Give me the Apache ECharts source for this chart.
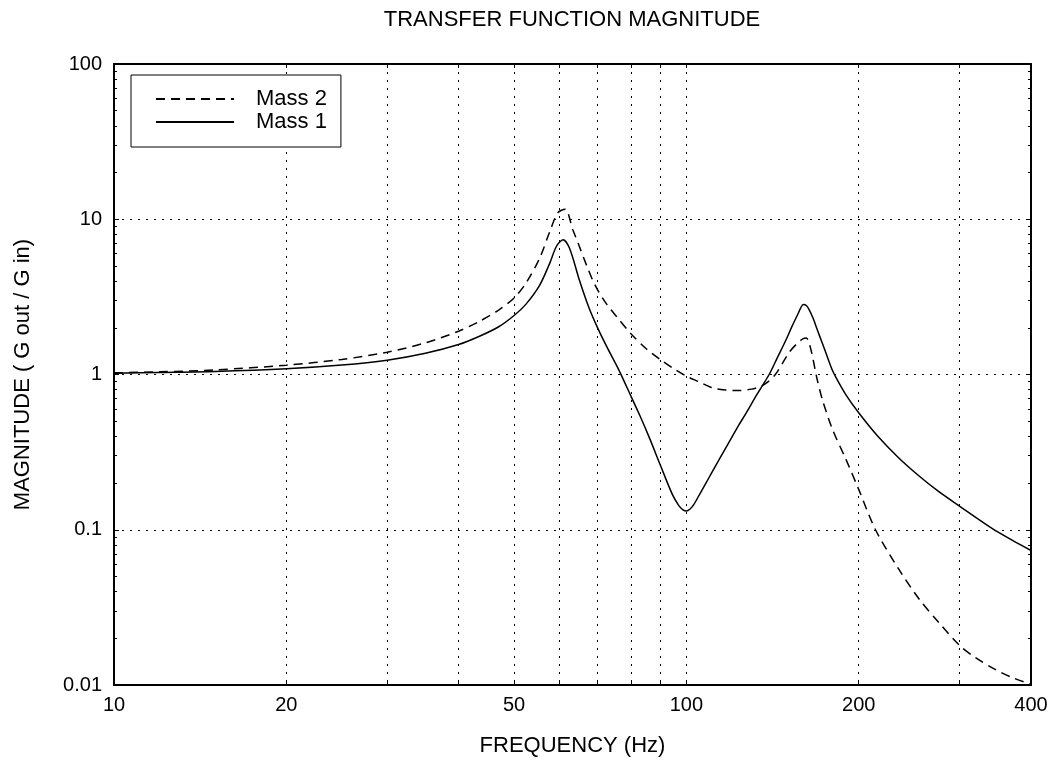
<!DOCTYPE html>
<html><head><meta charset="utf-8">
<script src="https://cdn.jsdelivr.net/npm/echarts@6/dist/echarts.min.js"></script>
<style>html,body{margin:0;padding:0;background:#fff}#c{width:1057px;height:767px}</style>
</head><body><div id="c"></div>
<script>
// ---- data ----
const mass1Freq = [10, 12, 15, 20, 25, 30, 35, 40, 43.5, 47, 50, 52.5, 55.4, 57.7, 59.3, 60.9, 62.5, 65.1, 67.6, 70, 73, 76.3, 80, 83, 86.4, 90, 94.5, 97, 98.5, 100, 101.5, 103, 106, 108.3, 111, 118, 123.6, 127, 133, 139.5, 144, 149.4, 153, 157, 158.5, 160, 162, 164, 166.5, 169, 171, 175, 180, 183, 190, 200, 216, 235, 255, 275, 300, 342, 370, 400];
const mass1Mag  = [1.02, 1.03, 1.045, 1.088, 1.15, 1.236, 1.37, 1.559, 1.763, 2.03, 2.4, 2.85, 3.75, 5.2, 6.7, 7.39, 6.5, 4.0, 2.68, 1.99, 1.45, 1.06, 0.726, 0.54, 0.382, 0.262, 0.169, 0.143, 0.135, 0.132, 0.136, 0.145, 0.175, 0.201, 0.237, 0.352, 0.475, 0.56, 0.75, 1.0, 1.27, 1.68, 2.05, 2.5, 2.7, 2.82, 2.78, 2.6, 2.3, 1.98, 1.76, 1.4, 1.06, 0.94, 0.74, 0.567, 0.40, 0.29, 0.222, 0.178, 0.142, 0.102, 0.086, 0.0735];
const mass2Freq = [10, 12, 15, 20, 25, 30, 35, 40, 43.5, 47, 50, 52.5, 55.4, 57.7, 59.6, 61.4, 63.3, 65.1, 67, 68.5, 70, 72.5, 75.6, 80, 85, 90, 95, 100, 105, 111, 117, 123.6, 130, 135, 139, 143, 147, 151, 156, 160, 162, 165, 169, 173, 180, 190, 200, 214, 235, 255, 276, 300, 320, 345, 370, 400];
const mass2Mag  = [1.025, 1.04, 1.07, 1.148, 1.25, 1.391, 1.6, 1.90, 2.20, 2.6, 3.11, 3.9, 5.6, 8.3, 11.0, 11.6, 8.6, 6.6, 5.0, 4.1, 3.5, 2.85, 2.35, 1.83, 1.47, 1.249, 1.09, 0.975, 0.9, 0.821, 0.795, 0.789, 0.805, 0.841, 0.9, 1.0, 1.17, 1.379, 1.58, 1.7, 1.72, 1.45, 0.95, 0.68, 0.443, 0.284, 0.182, 0.1, 0.0557, 0.0358, 0.0253, 0.0180, 0.0150, 0.0127, 0.0112, 0.0101];
const seriesNames = ['Mass 2', 'Mass 1'];
const xLabelValues = [10, 20, 50, 100, 200, 400];
const xGridValues = [10, 20, 30, 40, 50, 60, 70, 80, 90, 100, 200, 300, 400];
const yMinorTicks = [0.02, 0.03, 0.04, 0.05, 0.06, 0.07, 0.08, 0.09, 0.2, 0.3, 0.4, 0.5, 0.6, 0.7, 0.8, 0.9, 2, 3, 4, 5, 6, 7, 8, 9, 20, 30, 40, 50, 60, 70, 80, 90];
const yMajorTicks = [0.01, 0.1, 1, 10, 100];

const FONT = 'Liberation Sans, Arial, Helvetica, sans-serif';
const zip = (xs, ys) => xs.map((x, i) => [x, ys[i]]);

const chart = echarts.init(document.getElementById('c'), null, {renderer: 'canvas'});
const axisLine = {show: true, onZero: false, lineStyle: {color: '#000', width: 2}};
const dotted = {show: true, lineStyle: {color: '#000', width: 1, type: [2, 6]}};

chart.setOption({
  animation: false,
  backgroundColor: '#fff',
  title: {
    text: 'TRANSFER FUNCTION MAGNITUDE',
    left: 572, textAlign: 'center', top: 9, padding: 0,
    textStyle: {fontFamily: FONT, fontSize: 22, fontWeight: 'normal', color: '#000'}
  },
  legend: {
    data: seriesNames,
    orient: 'vertical', left: 131, top: 75,
    padding: [13, 14, 14, 24],
    itemWidth: 78, itemHeight: 14, itemGap: 1,
    backgroundColor: '#fff', borderColor: '#000', borderWidth: 1, borderRadius: 0,
    itemStyle: {opacity: 0},
    formatter: n => '{t|' + n + '}',
    textStyle: {fontFamily: FONT, fontSize: 22, color: '#000', lineHeight: 22,
      rich: {t: {fontFamily: FONT, fontSize: 22, color: '#000', lineHeight: 22, padding: [0, 0, 0, 17]}}}
  },
  grid: {left: 114, right: 26, top: 64, bottom: 82, containLabel: false},
  xAxis: [
    {
      type: 'log', logBase: 10, min: 10, max: 400, position: 'bottom',
      axisLine: axisLine,
      axisTick: {show: true, inside: true, length: 4, customValues: xGridValues, lineStyle: {color: '#000'}},
      axisLabel: {customValues: xLabelValues, color: '#000', fontSize: 20, fontFamily: FONT, margin: 10},
      splitLine: dotted,
      minorTick: {show: false}, minorSplitLine: {show: false},
      name: 'FREQUENCY (Hz)', nameLocation: 'middle', nameGap: 50,
      nameTextStyle: {fontFamily: FONT, fontSize: 22, color: '#000'}
    },
    {
      type: 'log', logBase: 10, min: 10, max: 400, position: 'top',
      axisLine: axisLine,
      axisTick: {show: true, inside: true, length: 4, customValues: xGridValues, lineStyle: {color: '#000'}},
      axisLabel: {show: false}, splitLine: {show: false}
    }
  ],
  yAxis: [
    {
      type: 'log', logBase: 10, min: 0.01, max: 100, position: 'left',
      axisLine: axisLine,
      axisTick: {show: true, inside: true, length: 5, customValues: yMajorTicks, lineStyle: {color: '#000'}},
      axisLabel: {color: '#000', fontSize: 20, fontFamily: FONT, margin: 12},
      splitLine: dotted,
      name: 'MAGNITUDE ( G out / G in)', nameLocation: 'middle', nameGap: 80,
      nameTextStyle: {fontFamily: FONT, fontSize: 22, color: '#000'}
    },
    {
      type: 'log', logBase: 10, min: 0.01, max: 100, position: 'left',
      axisLine: {show: false},
      axisTick: {show: true, inside: true, length: 3, customValues: yMinorTicks, lineStyle: {color: '#000'}},
      axisLabel: {show: false}, splitLine: {show: false}
    },
    {
      type: 'log', logBase: 10, min: 0.01, max: 100, position: 'right',
      axisLine: axisLine,
      axisTick: {show: true, inside: true, length: 3, customValues: yMinorTicks.concat(yMajorTicks), lineStyle: {color: '#000'}},
      axisLabel: {show: false}, splitLine: {show: false}
    }
  ],
  series: [
    {
      name: seriesNames[0], type: 'line', xAxisIndex: 0, yAxisIndex: 0,
      data: zip(mass2Freq, mass2Mag), symbol: 'none', smooth: 0.3,
      lineStyle: {color: '#000', width: 1.5, type: [9, 6]}, itemStyle: {color: '#000'}, z: 3
    },
    {
      name: seriesNames[1], type: 'line', xAxisIndex: 0, yAxisIndex: 0,
      data: zip(mass1Freq, mass1Mag), symbol: 'none', smooth: 0.3,
      lineStyle: {color: '#000', width: 1.5, type: 'solid'}, itemStyle: {color: '#000'}, z: 3
    }
  ]
});
</script></body></html>
